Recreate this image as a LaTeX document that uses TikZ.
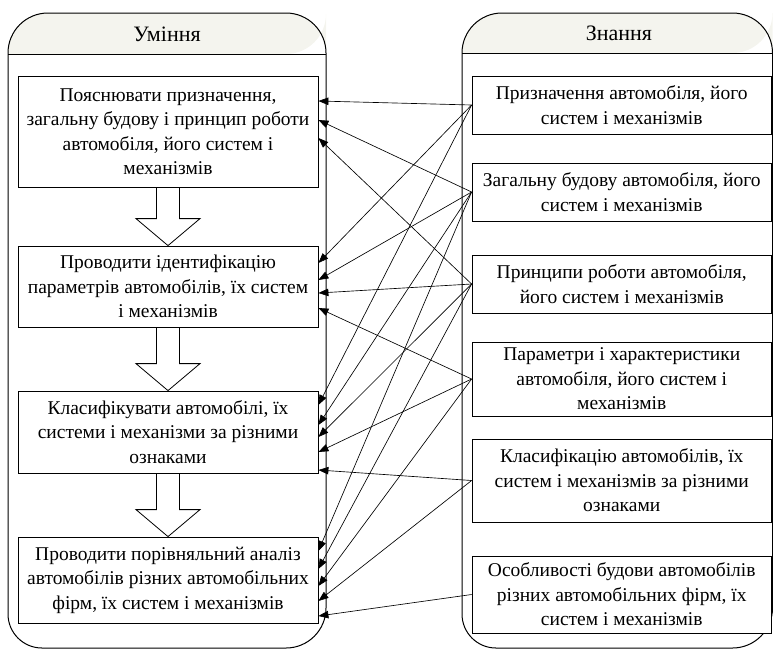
\documentclass[tikz,border=0pt]{standalone}
\usepackage{fontspec}
\setmainfont{Liberation Serif}
\usetikzlibrary{arrows.meta,calc}

\definecolor{headfill}{RGB}{244,244,238}

\begin{document}
\begin{tikzpicture}[x=1pt,y=-1pt,
  cont/.style={draw=black, line width=1pt},
  title/.style={font=\fontsize{22}{26}\selectfont, inner sep=0pt},
  box/.style={draw=black, line width=0.8pt, fill=white, align=center,
    inner sep=0pt, font=\fontsize{19.5}{24.5}\selectfont},
  lbox/.style={box, minimum width=300pt},
  rbox/.style={box, minimum width=299.5pt},
  conn/.style={line width=0.65pt, -{Triangle[length=10pt,width=7.5pt]}},
  hollow/.style={draw=black, line width=0.8pt, fill=white}
]
\useasboundingbox (0,0) rectangle (773,654);

% --- left column frame: "Уміння" ---
\fill[headfill] (8,54) [rounded corners=40pt] -- (8,13) -- (326,13) -- (326,54) [sharp corners] -- cycle;
\draw[cont] (8,330) [rounded corners=40pt] -- (8,13) -- (326,13) -- (326,648) [rounded corners=34pt] -- (8,648) -- cycle;
\draw[cont] (8,54) -- (326,54);
\node[title] (tU) at (167,34) {Уміння};

% --- right column frame: "Знання" ---
\fill[headfill] (462,53) [rounded corners=40pt] -- (462,13) -- (772.5,13) -- (772.5,53) [sharp corners] -- cycle;
\draw[cont] (462,330) [rounded corners=40pt] -- (462,13) -- (772.5,13) -- (772.5,648) [rounded corners=34pt] -- (462,648) -- cycle;
\draw[cont] (462,53) -- (772.5,53);
\node[title] (tZ) at (619,33) {Знання};

% --- skills ---
\node[lbox, minimum height=111pt] (L1) at (168,131.5)
  {Пояснювати призначення,\\загальну будову і принцип роботи\\автомобіля, його систем і\\механізмів};
\node[lbox, minimum height=81pt] (L2) at (168,286.5)
  {Проводити ідентифікацію\\параметрів автомобілів, їх систем\\і механізмів};
\node[lbox, minimum height=82pt] (L3) at (168,432)
  {Класифікувати автомобілі, їх\\системи і механізми за різними\\ознаками};
\node[lbox, minimum height=86pt] (L4) at (168,580)
  {Проводити порівняльний аналіз\\автомобілів різних автомобільних\\фірм, їх систем і механізмів};

% --- knowledge ---
\node[rbox, minimum height=58pt] (R1) at (621.75,105)
  {Призначення автомобіля, його\\систем і механізмів};
\node[rbox, minimum height=58pt] (R2) at (621.75,192)
  {Загальну будову автомобіля, його\\систем і механізмів};
\node[rbox, minimum height=58pt] (R3) at (621.75,284)
  {Принципи роботи автомобіля,\\його систем і механізмів};
\node[rbox, minimum height=74pt] (R4) at (621.75,379)
  {Параметри і характеристики\\автомобіля, його систем і\\механізмів};
\node[rbox, minimum height=83pt] (R5) at (621.75,480.5)
  {Класифікацію автомобілів, їх\\систем і механізмів за різними\\ознаками};
\node[rbox, minimum height=77pt] (R6) at (621.75,594.5)
  {Особливості будови автомобілів\\різних автомобільних фірм, їх\\систем і механізмів};

% --- hollow block arrows between skills ---
\foreach \a/\b in {L1/L2, L2/L3, L3/L4} {
  \draw[hollow] ([xshift=-11.5pt]\a.south) |- ($(\b.north)+(-32,-27)$)
    -- (\b.north) -- ($(\b.north)+(32,-27)$) -| ([xshift=11.5pt]\a.south) -- cycle;
}

% --- knowledge -> skill links ---
\draw[conn] (R1.west) -- (L1.east |- 0,101);
\draw[conn] (R2.west) -- (L1.east |- 0,120);
\draw[conn] (R3.west) -- (L1.east |- 0,138);

\draw[conn] (R1.west) -- (L2.east |- 0,263);
\draw[conn] (R2.west) -- (L2.east |- 0,280);
\draw[conn] (R3.west) -- (L2.east |- 0,293);
\draw[conn] (R4.west) -- (L2.east |- 0,308);

\draw[conn] (R1.west) -- (L3.east |- 0,405);
\draw[conn] (R2.west) -- (L3.east |- 0,425);
\draw[conn] (R3.west) -- (L3.east |- 0,437);
\draw[conn] (R4.west) -- (L3.east |- 0,452);
\draw[conn] (R5.west) -- (L3.east |- 0,470);

\draw[conn] (R2.west) -- (L4.east |- 0,551);
\draw[conn] (R3.west) -- (L4.east |- 0,569);
\draw[conn] (R4.west) -- (L4.east |- 0,586);
\draw[conn] (R5.west) -- (L4.east |- 0,601);
\draw[conn] (R6.west) -- (L4.east |- 0,616);
\end{tikzpicture}
\end{document}
